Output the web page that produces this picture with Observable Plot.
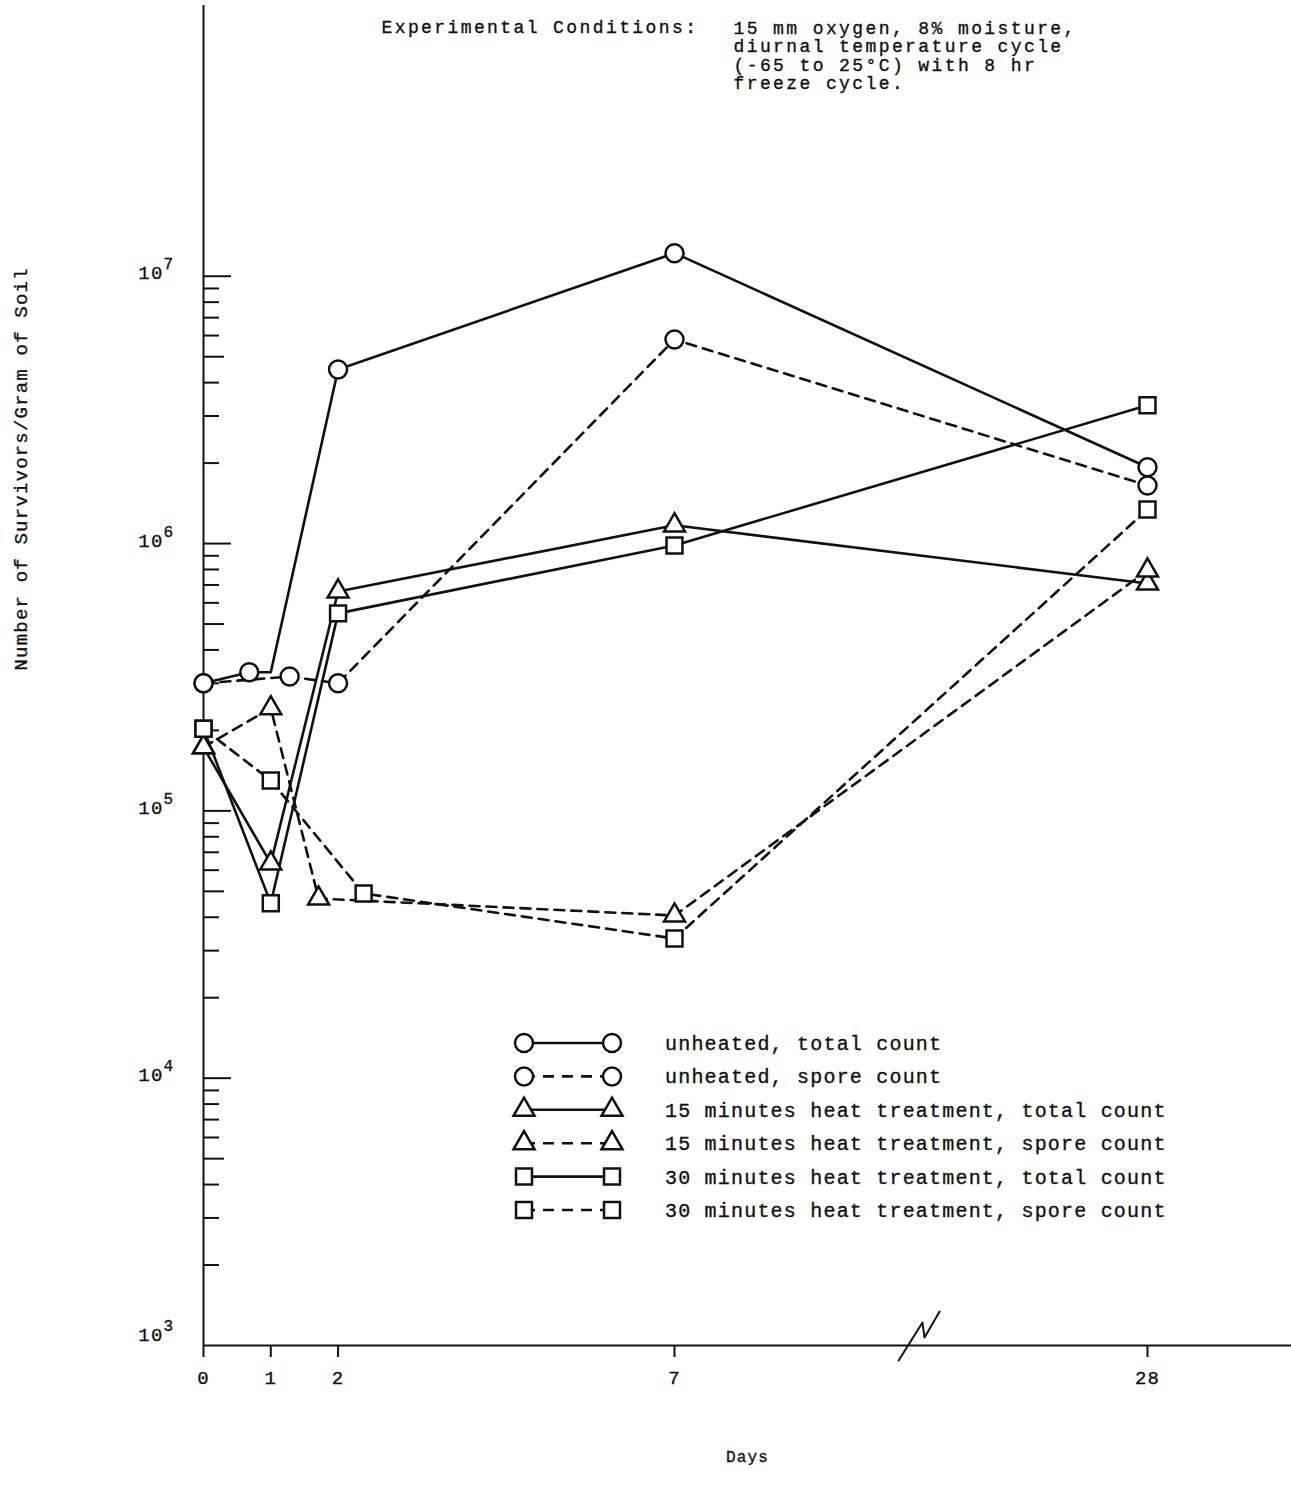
<!DOCTYPE html>
<html><head><meta charset="utf-8">
<script src="https://cdn.jsdelivr.net/npm/d3@7"></script>
<script src="https://cdn.jsdelivr.net/npm/@observablehq/plot@0.6"></script>
<style>
body{margin:0;background:#fff}
svg{display:block}
#chart svg text{stroke:#111;stroke-width:0.35px}
</style>
</head><body><div id="chart"></div>
<script>
// ---- data (days, survivors per gram of soil) ----
const seriesNames = [
  "unheated, total count",
  "unheated, spore count",
  "15 minutes heat treatment, total count",
  "15 minutes heat treatment, spore count",
  "30 minutes heat treatment, total count",
  "30 minutes heat treatment, spore count"
];
const seriesSymbols = ["circle", "circle", "triangle", "triangle", "square", "square"];
const seriesDashed = [false, true, false, true, false, true];

const unheatedTotalDays   = [0, 0.68, 1, 2, 7, 28];
const unheatedTotalValues = [3.0e5, 3.3e5, 3.3e5, 4.48e6, 1.22e7, 1.93e6];
const unheatedTotalMarked = [true, true, false, true, true, true];

const unheatedSporeDays   = [0, 1.28, 2, 7, 28];
const unheatedSporeValues = [3.0e5, 3.18e5, 3.0e5, 5.8e6, 1.65e6];

const heat15TotalDays   = [0, 1, 2, 7, 28];
const heat15TotalValues = [1.73e5, 6.36e4, 6.62e5, 1.17e6, 7.09e5];

const heat15SporeDays   = [0, 1, 1.71, 7, 28];
const heat15SporeValues = [1.73e5, 2.42e5, 4.70e4, 4.06e4, 7.93e5];

const heat30TotalDays   = [0, 1, 2, 7, 28];
const heat30TotalValues = [2.03e5, 4.51e4, 5.48e5, 9.84e5, 3.29e6];

const heat30SporeDays   = [0, 1, 2.38, 7, 28];
const heat30SporeValues = [2.03e5, 1.30e5, 4.91e4, 3.33e4, 1.34e6];

const xTicks = [0, 1, 2, 7, 28];
const yMajorTicks = [1e4, 1e5, 1e6, 1e7];
const yLabelTicks = [1e4, 1e5, 1e6, 1e7];
const yBottomLabel = [1e3];
const yMinorTicks = [];
for (const dec of [1e3, 1e4, 1e5, 1e6]) for (const m of [2, 3, 4, 6, 7, 8, 9]) yMinorTicks.push(dec * m);
const yFiveTicks = [5e3, 5e4, 5e5, 5e6];

const breakDays   = [16.95, 18.01, 18.10, 18.77];
const breakValues = [879, 1219, 1071, 1340];

const titleLeft = "Experimental Conditions:";
const titleRight = "15 mm oxygen, 8% moisture,\ndiurnal temperature cycle\n(-65 to 25°C) with 8 hr\nfreeze cycle.";
const yLabel = "Number of Survivors/Gram of Soil";
const xLabel = "Days";

// ---- build tables ----
const allDays = [unheatedTotalDays, unheatedSporeDays, heat15TotalDays, heat15SporeDays, heat30TotalDays, heat30SporeDays];
const allValues = [unheatedTotalValues, unheatedSporeValues, heat15TotalValues, heat15SporeValues, heat30TotalValues, heat30SporeValues];
const series = seriesNames.map((name, i) => ({
  name, symbol: seriesSymbols[i], dashed: seriesDashed[i],
  data: allDays[i].map((d, j) => ({day: d, value: allValues[i][j],
    marked: i === 0 ? unheatedTotalMarked[j] : true}))
}));
const breakData = breakDays.map((d, i) => ({day: d, value: breakValues[i]}));

const FONT = "'Liberation Mono', 'DejaVu Sans Mono', monospace";
const INK = "#111";
const rFor = {circle: 9, triangle: 7.8, square: 9};

const marks = [
  Plot.ruleY([1000], {stroke: INK, strokeWidth: 2}),
  Plot.ruleX([0], {stroke: INK, strokeWidth: 2}),
  Plot.tickY(yMajorTicks, {y: d => d, insetRight: 1088 - 28, stroke: INK, strokeWidth: 2}),
  Plot.tickY(yFiveTicks, {y: d => d, insetRight: 1088 - 21, stroke: INK, strokeWidth: 2}),
  Plot.tickY(yMinorTicks, {y: d => d, insetRight: 1088 - 16, stroke: INK, strokeWidth: 2}),
  Plot.text(yLabelTicks, {y: d => d, frameAnchor: "left", text: d => "10", textAnchor: "end", dx: -40, dy: -3, fontSize: 19, fill: INK}),
  Plot.text(yLabelTicks, {y: d => d, frameAnchor: "left", text: d => String(Math.round(Math.log10(d))), textAnchor: "start", dx: -40, dy: -12, fontSize: 16, fill: INK}),
  Plot.text(yBottomLabel, {y: d => d, frameAnchor: "left", text: d => "10", textAnchor: "end", dx: -40, dy: -11, fontSize: 19, fill: INK}),
  Plot.text(yBottomLabel, {y: d => d, frameAnchor: "left", text: d => String(Math.round(Math.log10(d))), textAnchor: "start", dx: -40, dy: -20, fontSize: 16, fill: INK}),
  Plot.axisX({ticks: xTicks, tickSize: 12, tickPadding: 13, tickFormat: d => String(d), fontSize: 19, stroke: INK, strokeWidth: 2, fill: INK, label: null}),
  Plot.line(breakData, {x: "day", y: "value", stroke: INK, strokeWidth: 2}),
  Plot.text([titleLeft], {frameAnchor: "top-left", dx: 178, dy: 15, text: d => d, lineAnchor: "top", textAnchor: "start", fontSize: 18, fill: INK}),
  Plot.text([titleRight], {frameAnchor: "top-left", dx: 530, dy: 15, text: d => d, lineAnchor: "top", textAnchor: "start", fontSize: 18, lineHeight: 1.03, fill: INK}),
  Plot.text([yLabel], {frameAnchor: "left", dx: -183, dy: -5, rotate: -90, text: d => d, fontSize: 19, fill: INK}),
  Plot.text([xLabel], {frameAnchor: "bottom", dy: 116, text: d => d, fontSize: 16, fill: INK}),
  ...series.map(s => Plot.line(s.data, {x: "day", y: "value", stroke: INK, strokeWidth: 2.6,
      strokeDasharray: s.dashed ? "10,7" : null})),
  ...series.map(s => Plot.dot(s.data.filter(d => d.marked), {x: "day", y: "value", symbol: s.symbol,
      r: rFor[s.symbol], fill: "white", stroke: INK, strokeWidth: 2.5}))
];

const plot = Plot.plot({
  width: 1291, height: 1501,
  marginLeft: 203, marginRight: 0, marginTop: 5, marginBottom: 156,
  style: {fontFamily: FONT, background: "white", color: INK, letterSpacing: "1.2px"},
  x: {type: "linear", domain: [0, 7, 28], range: [203, 674, 1147]},
  y: {type: "log", domain: [1000, 1.03e8], axis: null},
  marks
});
document.getElementById("chart").appendChild(plot);

const svg = d3.select(plot);
// wider typewriter pitch for the conditions note
svg.selectAll("text").filter(function () {
  const t = this.textContent;
  return t.startsWith("Experimental") || t.startsWith("15 mm");
}).style("letter-spacing", "2.4px");

// ---- legend (key drawn inside the plot area) ----
const lg = svg.append("g").attr("font-family", FONT).attr("font-size", 20).attr("fill", INK)
  .attr("text-anchor", "start");
const symType = {circle: d3.symbolCircle, triangle: d3.symbolTriangle, square: d3.symbolSquare};
series.forEach((s, i) => {
  const y = 1043 + i * 33.4;
  lg.append("line").attr("x1", 524).attr("x2", 612).attr("y1", y).attr("y2", y)
    .attr("stroke", INK).attr("stroke-width", 2.6)
    .attr("stroke-dasharray", s.dashed ? "11,8" : null);
  const path = d3.symbol().type(symType[s.symbol]).size(Math.PI * rFor[s.symbol] ** 2)();
  for (const x of [524, 612]) {
    lg.append("path").attr("d", path).attr("transform", `translate(${x},${y})`)
      .attr("fill", "white").attr("stroke", INK).attr("stroke-width", 2.5);
  }
  lg.append("text").attr("x", 665).attr("y", y).attr("dy", "0.35em").attr("text-anchor", "start").text(s.name);
});
</script>
</body></html>
